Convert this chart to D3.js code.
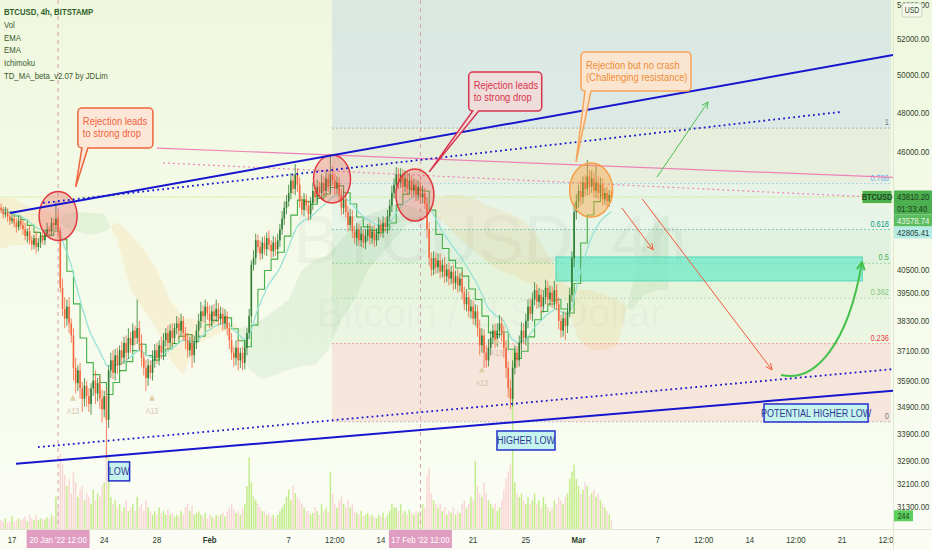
<!DOCTYPE html>
<html><head><meta charset="utf-8">
<script src="https://cdn.jsdelivr.net/npm/d3@7"></script>
<style>body{margin:0;background:#fff}svg{display:block}</style>
</head><body>
<svg id="c" width="932" height="550"></svg>
<script>
// ---------------- DATA ----------------
const candleStart = "2022-01-16T04:00";   // first 4h candle
const firstOpen = 43300;
const closes = [
43200,43000,43100,42900,42700,42800,42600,42400,42700,42500,
42300,42000,42200,41800,41600,41900,41500,41700,42000,41800,
42100,42300,42200,42600,42500,42800,42200,39700,38800,38400,
38900,38200,37700,36400,35800,36300,35600,35200,35700,35300,
35000,35600,35900,35400,35800,35200,34800,35300,34400,36300,
36700,36200,36900,36500,37100,36800,37400,37000,37600,37300,
37900,37600,38000,37400,36800,36400,36000,36500,36200,36700,
37100,36800,37300,37000,37500,37800,37400,37900,37600,38000,
38200,37900,38300,37800,37500,37100,37400,36900,37400,37900,
38300,38700,38500,38900,38600,38300,38700,38500,38800,38400,
38600,38200,38500,38000,37500,37000,36800,37200,36700,37000,
36600,37200,37800,38500,40700,41000,41800,41500,41200,41700,
41400,41900,41600,41300,41700,41400,41800,42300,42800,43300,
43600,44000,44600,44200,44900,44400,43600,43200,43700,43400,
43000,43500,44100,43800,44300,44000,44500,44100,44700,44300,
44900,44600,44200,44500,43900,43300,43700,43100,42500,42900,
42200,41900,42300,41800,42100,41700,42000,42300,41900,42200,
41800,42100,42500,42200,42600,42400,42900,43400,44000,44400,
44900,44500,44900,44300,44700,44200,44600,44100,44400,43900,
44300,43800,44000,43500,42300,41000,40500,41000,40600,40900,
40400,40700,40200,40500,40100,40400,39900,40200,39800,40100,
39500,39000,39300,38700,38900,38400,38700,38000,37300,37700,
37000,36700,37200,37600,37900,37500,37900,38200,37800,37200,
36400,35600,35200,36400,37000,36700,37400,37900,37600,38300,
38900,38600,39200,39600,39100,39400,38900,39300,39700,39200,
39500,39100,39600,39000,38300,37900,38400,38100,38700,39400,
41000,43100,43600,44100,43800,44500,44200,44800,44300,44700,
44100,44500,44000,44400,43700,44000,43600,43900,43810];
const wickUp = [
200,150,250,180,120,300,150,200,250,150,
200,300,150,250,200,150,300,200,150,250,
200,300,150,250,200,800,300,200,400,500,
300,400,200,300,400,200,300,250,300,200,
300,200,250,400,200,300,350,200,300,200,
300,400,250,300,200,350,250,300,400,250,
300,200,1200,300,350,200,300,250,200,400,
250,300,200,350,300,200,300,250,300,200,
300,250,300,200,250,300,250,350,300,250,
300,400,250,300,200,350,250,300,400,250,
300,250,300,200,250,300,250,300,350,200,
250,300,200,300,200,350,300,250,300,250,
300,250,350,200,300,250,300,250,350,300,
300,400,350,300,500,300,350,250,300,250,
250,300,400,300,350,250,400,300,350,300,
900,400,350,300,250,300,400,250,300,350,
300,250,300,250,350,200,300,250,300,250,
300,250,350,250,300,250,300,300,350,300,
350,300,300,250,400,300,350,250,300,250,
300,250,350,250,300,350,250,300,250,300,
300,250,350,250,300,250,300,250,300,250,
300,250,350,250,300,250,300,250,350,300,
250,300,350,300,250,300,300,350,250,300,
300,250,350,300,300,250,300,350,300,300,
300,350,300,350,250,300,250,300,350,300,
300,250,400,250,300,250,300,250,350,300,
300,400,350,300,500,300,350,800,300,400,
300,800,300,350,300,250,300,250,200];
const wickDn = [
150,200,150,250,200,150,200,250,150,200,
250,200,300,200,250,200,300,200,250,200,
200,150,250,200,250,200,300,200,300,400,
300,400,300,500,400,300,400,500,300,400,
300,400,300,400,300,400,500,300,1400,300,
300,250,300,350,250,300,250,300,250,300,
250,300,250,300,350,300,500,300,250,300,
300,250,300,250,300,250,300,250,300,250,
250,300,250,300,350,300,250,500,300,250,
250,300,250,300,250,300,250,300,250,300,
250,300,250,300,350,300,350,300,400,300,
300,250,300,250,300,250,300,250,300,250,
250,300,250,300,250,300,250,300,250,300,
300,250,300,250,300,350,300,250,300,250,
300,250,300,250,300,250,300,250,300,250,
300,250,300,250,300,350,300,250,300,250,
300,250,350,250,300,250,300,250,300,250,
300,250,300,250,300,250,300,250,300,250,
250,300,250,300,250,300,250,300,250,300,
250,300,300,250,400,350,300,250,300,250,
300,250,300,250,300,250,300,250,300,250,
300,250,300,250,300,250,300,350,400,300,
600,300,250,300,250,300,250,300,350,400,
400,350,400,300,250,300,250,300,250,300,
300,250,300,250,300,250,300,250,300,250,
300,250,300,250,350,300,250,600,300,250,
300,400,350,300,400,300,350,300,400,300,
300,350,300,250,300,250,300,250,200];
const volumes = [
250,200,300,180,220,350,200,260,300,240,
280,350,220,400,300,260,380,250,300,280,
260,320,280,400,350,900,600,2100,1800,1500,
1200,1400,1000,1600,1300,900,1100,1200,800,1000,
900,700,1100,800,1000,900,1200,1300,2300,2000,
900,700,800,600,700,500,600,800,500,600,
700,500,900,600,700,500,800,600,500,400,
500,400,600,450,500,400,550,400,450,350,
400,350,500,400,600,700,500,650,400,450,
500,400,350,450,300,400,350,300,400,350,
400,450,350,500,600,700,550,450,500,400,
600,700,1200,2000,1300,900,800,700,600,500,
500,400,450,350,400,300,400,500,600,700,
900,1100,800,1200,1000,900,800,700,600,500,
500,400,450,600,500,400,700,500,600,450,
1600,1000,700,600,800,900,700,600,800,600,
700,500,450,400,500,350,400,450,350,400,
350,300,400,350,450,300,400,500,700,600,
600,500,700,450,500,400,550,450,400,500,
450,500,700,600,1500,1700,1000,800,700,600,
700,500,600,400,500,450,600,400,500,450,
700,800,600,700,900,800,1900,1200,1000,900,
1300,1000,800,700,600,700,500,600,800,1100,
1400,1600,1800,5000,1300,1000,900,1000,800,700,
900,700,800,1000,700,800,600,900,700,600,
500,600,800,700,900,800,700,900,1000,1400,
1600,1800,1400,1200,1000,1100,1300,1200,900,1000,
1100,900,1000,800,700,600,500,400,244];

// Ichimoku cloud
const cloudDates = ["2022-01-16","2022-01-17","2022-01-18","2022-01-19","2022-01-20","2022-01-21","2022-01-22","2022-01-23","2022-01-24","2022-01-25","2022-01-26","2022-01-27","2022-01-28","2022-01-29","2022-01-30","2022-01-31",
"2022-02-01","2022-02-02","2022-02-03","2022-02-04","2022-02-05","2022-02-06","2022-02-07","2022-02-08","2022-02-09","2022-02-10","2022-02-11","2022-02-12","2022-02-13","2022-02-14","2022-02-15","2022-02-16","2022-02-17","2022-02-18","2022-02-19","2022-02-20","2022-02-21","2022-02-22","2022-02-23","2022-02-24","2022-02-25","2022-02-26","2022-02-27","2022-02-28",
"2022-03-01","2022-03-02","2022-03-03","2022-03-04","2022-03-05","2022-03-06","2022-03-07","2022-03-07T20:00"];
const spanA = [41370,41590,41590,41820,42180,43060,43100,43060,43010,41820,39610,38770,37930,36720,36130,37330,
37610,37860,37930,38140,38350,38770,39190,40480,40920,41140,41820,42500,42960,43200,43430,43430,43200,42960,42500,41820,41370,40830,40480,40260,39960,39610,39530,39190,
37530,37120,37120,37330,39610,41820,42730,42960];
const spanB = [43760,43760,43430,43200,43100,42370,42180,42050,42180,42640,42050,41370,40480,39190,38430,38350,
38270,38230,38140,36330,35940,36130,36330,36450,36530,37120,38350,39190,40480,41140,41820,42500,42730,43670,43900,43900,43760,43430,43200,42960,42640,41820,40830,39830,
39610,39610,39400,39190,38770,39400,39610,39610];

// Fibonacci retracement
const fibLevels = [0, 0.236, 0.382, 0.5, 0.618, 0.786, 1, 1.618];
const fibColors = ["#787b86","#f23645","#81c784","#4caf50","#089981","#64b5f6","#787b86","#2962ff"];
const fibLow = 34330, fibHigh = 47210;
const fibStart = "2022-02-10T07:00", fibEnd = "2022-03-24T17:00";

// axes
const priceTicks = [54000,52000,50000,48000,46000,40500,39500,38300,37100,35900,34900,33900,32900,32100,31300];
const timeTicks = ["2022-01-17","2022-01-24","2022-01-28","2022-02-01","2022-02-07","2022-02-10T12:00","2022-02-14","2022-02-21","2022-02-25","2022-03-01","2022-03-07","2022-03-10T12:00","2022-03-14","2022-03-17T12:00","2022-03-21","2022-03-24T12:00"];
const timeLabels = ["17","24","28","Feb","7","12:00","14","21","25","Mar","7","12:00","14","12:00","21","12:00"];
const crossDates = ["2022-01-20T12:00","2022-02-17T00:00"];
const crossLabels = ["20 Jan '22  12:00","17 Feb '22  12:00"];
const legendLines = ["BTCUSD, 4h, BITSTAMP","Vol","EMA","EMA","Ichimoku","TD_MA_beta_v2.07 by JDLim"];
const lastPrice = 43810.20, countdown = "01:33:40";
const emaFastLast = 43578.74, emaSlowLast = 42805.41;
const symbol = "BTCUSD";
const watermark = ["BTCUSD, 4h", "Bitcoin / U.S. Dollar"];

// drawings
const trendLines = [
  {a:["2022-01-16T20:00",43060], b:["2022-03-24T21:00",51100], kind:"solid"},
  {a:["2022-01-19T08:30",43530], b:["2022-03-20T20:00",48040], kind:"dot"},
  {a:["2022-01-17T07:18",32800], b:["2022-03-24T21:00",35510], kind:"solid"},
  {a:["2022-01-18T23:20",33400], b:["2022-03-24T21:00",36350], kind:"dot"}
];
const pinkLines = [
  {a:["2022-01-28T00:00",46200], b:["2022-03-24T21:00",44750], kind:"solid"},
  {a:["2022-01-28T11:00",45460], b:["2022-03-24T21:00",43760], kind:"dot"}
];
const circles = [
  {t:"2022-01-20T12:00", p:42920, rx:19, ry:24.5, c:"red"},
  {t:"2022-02-10T07:00", p:44670, rx:18.5, ry:24, c:"red"},
  {t:"2022-02-16T14:00", p:43900, rx:19, ry:26, c:"red"},
  {t:"2022-03-01T23:00", p:44140, rx:21.5, ry:27, c:"orange"}
];
const targetZone = {t1:"2022-02-27T07:00", t2:"2022-03-22T13:00", p1:40000, p2:41050};
const arrows = [
  {a:["2022-03-06T23:00",44770], b:["2022-03-10T20:00",48570], c:"#49c24f"},
  {a:["2022-03-04T07:00",43290], b:["2022-03-06T16:00",41370], c:"#f15b3c"},
  {a:["2022-03-05T20:00",43720], b:["2022-03-15T16:30",36320], c:"#f15b3c"}
];
const curveArrow = [["2022-03-16T09:00",36120],["2022-03-19T00:00",35800],["2022-03-21T12:00",37400],["2022-03-22T12:30",40840]];
const callouts = [
  {t:"2022-01-22T00:00", p:48250, w:75, h:40, tip:["2022-01-21T20:00",44290], lines:["Rejection leads","to strong drop"], stroke:"#f0633c", fill:"#fde3d6", text:"#f0633c"},
  {t:"2022-02-20T16:00", p:50170, w:73, h:39, tip:["2022-02-17T16:00",45020], lines:["Rejection leads","to strong drop"], stroke:"#d9344f", fill:"#f0dcd8", text:"#d9344f"},
  {t:"2022-03-01T04:30", p:51270, w:110, h:39, tip:["2022-02-28T19:30",45500], lines:["Rejection but no crash","(Challenging resistance)"], stroke:"#f7a458", fill:"#fde6cd", text:"#f08b36"}
];
const boxLabels = [
  {t:"2022-01-24T08:00", p:32870, w:21, h:19, text:"LOW"},
  {t:"2022-02-22T19:30", p:33990, w:58, h:19, text:"HIGHER LOW"},
  {t:"2022-03-15T02:00", p:35000, w:104, h:18, text:"POTENTIAL HIGHER LOW"}
];
const tdMarks = [
  {t:"2022-01-21T15:00", p:35240, text:"A13"},
  {t:"2022-01-27T15:00", p:35240, text:"A13"},
  {t:"2022-02-22T19:00", p:37500, text:"A13"},
  {t:"2022-02-21T16:00", p:36330, text:"A13"}
];

// ---------------- SETUP ----------------
const FONT = "'Liberation Sans',Arial,sans-serif";
const SX = 0.82;                // narrow look of the original UI font
const PR = 893, PB = 529;
const D = s => new Date((s.length===10 ? s+"T00:00" : s) + "Z");
const svg = d3.select("#c");
const x = d3.scaleUtc().domain([D("2022-01-17"), D("2022-03-21")]).range([12, 842]);
const y = d3.scaleLog().domain([52000, 31300]).range([39, 507]);
const vy = d3.scaleLinear().domain([0, 5000]).range([PB, 350]);
const P = (t,p) => [x(D(t)), y(p)];

function T(parent, tx, ty, s, o={}){
  return parent.append("text").attr("transform",`translate(${tx},${ty}) scale(${o.sx??SX},1)`)
    .attr("text-anchor",o.anchor||"start").attr("font-family",FONT)
    .attr("font-size",o.size||9).attr("font-weight",o.weight||"normal")
    .attr("fill",o.fill||"#333").text(s);
}

const defs = svg.append("defs");
const grad = defs.append("linearGradient").attr("id","bg").attr("x1",0).attr("y1",0).attr("x2",0).attr("y2",1);
grad.append("stop").attr("offset","0%").attr("stop-color","#eff8de");
grad.append("stop").attr("offset","100%").attr("stop-color","#fbfdf5");
defs.append("clipPath").attr("id","plot").append("rect").attr("x",0).attr("y",0).attr("width",PR).attr("height",PB);
defs.append("clipPath").attr("id","taxis").append("rect").attr("x",0).attr("y",PB).attr("width",PR).attr("height",550-PB);

svg.append("rect").attr("width",932).attr("height",550).attr("fill","url(#bg)");
const g = svg.append("g").attr("clip-path","url(#plot)");

// Fib zones
const fibPrice = l => fibLow + l*(fibHigh-fibLow);
const fx1 = x(D(fibStart)), fx2 = x(D(fibEnd));
for (let i=0;i<fibLevels.length-1;i++){
  const ya = y(fibPrice(fibLevels[i+1])), yb = y(fibPrice(fibLevels[i]));
  g.append("rect").attr("x",fx1).attr("width",fx2-fx1).attr("y",ya).attr("height",yb-ya)
    .attr("fill",fibColors[i+1]).attr("fill-opacity", i===0?0.11:(i===6?0.1:0.085));
}

// watermark
T(g, 490, 263, watermark[0], {sx:1, anchor:"middle", size:68, fill:"rgba(70,100,70,0.05)"});
T(g, 490, 327, watermark[1], {sx:1, anchor:"middle", size:40, fill:"rgba(70,100,70,0.05)"});

// Ichimoku cloud
const cg = g.append("g").attr("opacity",0.09);
function poly(pts, up){ cg.append("path").attr("d","M"+pts.map(p=>p.join(",")).join("L")+"Z").attr("fill", up?"#3fa044":"#ff9800"); }
for (let k=0;k<cloudDates.length-1;k++){
  const x0=x(D(cloudDates[k])), x1=x(D(cloudDates[k+1]));
  const a0=y(spanA[k]), b0=y(spanB[k]), a1=y(spanA[k+1]), b1=y(spanB[k+1]);
  const s0 = spanA[k]>=spanB[k], s1 = spanA[k+1]>=spanB[k+1];
  if (s0===s1) poly([[x0,a0],[x1,a1],[x1,b1],[x0,b0]], s0);
  else {
    const d0=a0-b0, d1=a1-b1, t=d0/(d0-d1);
    const xc=x0+t*(x1-x0), yc=a0+t*(a1-a0);
    poly([[x0,a0],[xc,yc],[x0,b0]], s0);
    poly([[xc,yc],[x1,a1],[x1,b1]], s1);
  }
}

// candles
const t0 = D(candleStart).getTime(), H4 = 4*3600e3;
const candles = closes.map((c,i)=>{const o=i?closes[i-1]:firstOpen;
  return {t:new Date(t0+i*H4), o, c, h:Math.max(o,c)+wickUp[i], l:Math.min(o,c)-wickDn[i], v:volumes[i]};});

// volume
g.append("g").selectAll("rect").data(candles).join("rect")
  .attr("x",d=>x(d.t)-0.75).attr("width",1.5)
  .attr("y",d=>vy(d.v)).attr("height",d=>PB-vy(d.v))
  .attr("fill",d=>d.c>=d.o?"#c3ec8a":"#fbd6d6");

// fib lines + labels
fibLevels.forEach((l,i)=>{
  if (l>1) return;
  const yy = y(fibPrice(l));
  g.append("line").attr("x1",fx1).attr("x2",fx2).attr("y1",yy).attr("y2",yy)
    .attr("stroke",fibColors[i]).attr("stroke-opacity",0.45).attr("stroke-dasharray","2,2");
  T(g, fx2-2, yy-3, String(l), {anchor:"end", size:9, fill:fibColors[i]});
});

// target zone
g.append("rect").attr("x",x(D(targetZone.t1))).attr("width",x(D(targetZone.t2))-x(D(targetZone.t1)))
  .attr("y",y(targetZone.p2)).attr("height",y(targetZone.p1)-y(targetZone.p2))
  .attr("fill","#5fe8c6").attr("fill-opacity",0.65).attr("stroke","#4fd8b8").attr("stroke-width",1);

// crosshair verticals
crossDates.forEach(t=>{
  g.append("line").attr("x1",x(D(t))).attr("x2",x(D(t))).attr("y1",0).attr("y2",PB)
   .attr("stroke","#d6a2aa").attr("stroke-dasharray","4,4");
});

// last price line
g.append("line").attr("x1",0).attr("x2",PR).attr("y1",y(lastPrice)).attr("y2",y(lastPrice))
  .attr("stroke","#cdeb95").attr("stroke-dasharray","2,1");

// pink lines
pinkLines.forEach(L=>{
  const a=P(...L.a), b=P(...L.b);
  g.append("line").attr("x1",a[0]).attr("y1",a[1]).attr("x2",b[0]).attr("y2",b[1])
   .attr("stroke","#ee82b6").attr("stroke-width",1.2)
   .attr("stroke-dasharray",L.kind==="solid"?null:"2,3");
});

// EMAs
function ema(arr,n){const k=2/(n+1);let e=arr[0];return arr.map(v=>e=v*k+e*(1-k));}
const emaF = ema(closes,10), emaS = ema(closes,21);
const stepPts = candles.map((d,i)=>[x(d.t), y(emaF[i])]).filter((d,i)=>i%3===0 || i===closes.length-1);
g.append("path").attr("d",d3.line().curve(d3.curveStepAfter)(stepPts)).attr("fill","none").attr("stroke","#43b047").attr("stroke-width",1.1);
g.append("path").attr("d",d3.line()(candles.map((d,i)=>[x(d.t), y(emaS[i])]))).attr("fill","none").attr("stroke","#96e3d6").attr("stroke-width",1.3);

// candles
const cgp = g.append("g");
candles.forEach(d=>{
  const col = d.c>=d.o ? "#2f7d32" : "#f4673c";
  const cx = x(d.t);
  cgp.append("line").attr("x1",cx).attr("x2",cx).attr("y1",y(d.h)).attr("y2",y(d.l)).attr("stroke",col).attr("stroke-width",0.8);
  const top=y(Math.max(d.o,d.c)), bot=y(Math.min(d.o,d.c));
  cgp.append("rect").attr("x",cx-0.8).attr("width",1.6).attr("y",top).attr("height",Math.max(1,bot-top)).attr("fill",col);
});

// TD marks
tdMarks.forEach(m=>{
  const [mx,my]=P(m.t,m.p);
  g.append("path").attr("d",`M${mx-3},${my+3}L${mx+3},${my+3}L${mx},${my-3}Z`).attr("fill","#e0cfa6");
  T(g, mx, my+16, m.text, {anchor:"middle", size:8.5, fill:"#d9c2ad"});
});

// circles
circles.forEach(c=>{
  const [cx,cy]=P(c.t,c.p);
  g.append("ellipse").attr("cx",cx).attr("cy",cy).attr("rx",c.rx).attr("ry",c.ry)
   .attr("fill",c.c==="red"?"rgba(236,80,80,0.3)":"rgba(250,160,60,0.42)")
   .attr("stroke",c.c==="red"?"#e0393e":"#f6a04a").attr("stroke-width",1.5);
});

// trend lines
trendLines.forEach(L=>{
  const a=P(...L.a), b=P(...L.b);
  g.append("line").attr("x1",a[0]).attr("y1",a[1]).attr("x2",b[0]).attr("y2",b[1])
   .attr("stroke","#1616cf").attr("stroke-width",L.kind==="solid"?2:1.8)
   .attr("stroke-dasharray",L.kind==="solid"?null:"1.8,3.2");
});

// arrows
function head(px,py,ang,col,len,w){
  [0.45,-0.45].forEach(s=>{
    g.append("line").attr("x1",px).attr("y1",py).attr("x2",px-len*Math.cos(ang+s)).attr("y2",py-len*Math.sin(ang+s))
     .attr("stroke",col).attr("stroke-width",w);
  });
}
arrows.forEach(A=>{
  const a=P(...A.a), b=P(...A.b);
  g.append("line").attr("x1",a[0]).attr("y1",a[1]).attr("x2",b[0]).attr("y2",b[1]).attr("stroke",A.c).attr("stroke-width",1);
  head(b[0],b[1],Math.atan2(b[1]-a[1],b[0]-a[0]),A.c,7,1);
});
{
  const pts = curveArrow.map(p=>P(...p));
  g.append("path").attr("d",`M${pts[0]}C${pts[1]} ${pts[2]} ${pts[3]}`).attr("fill","none").attr("stroke","#45c24d").attr("stroke-width",2);
  head(pts[3][0],pts[3][1],Math.atan2(pts[3][1]-pts[2][1],pts[3][0]-pts[2][0]),"#45c24d",9,2);
}

// callouts
callouts.forEach(c=>{
  const [bx,by]=P(c.t,c.p), [tx,ty]=P(...c.tip), w=c.w, h=c.h, r=4;
  const b1=bx+4, b2=bx+10;
  const d=`M${bx+r},${by}H${bx+w-r}A${r},${r} 0 0 1 ${bx+w},${by+r}V${by+h-r}A${r},${r} 0 0 1 ${bx+w-r},${by+h}H${b2}L${tx},${ty}L${b1},${by+h}H${bx+r}A${r},${r} 0 0 1 ${bx},${by+h-r}V${by+r}A${r},${r} 0 0 1 ${bx+r},${by}Z`;
  g.append("path").attr("d",d).attr("fill",c.fill).attr("fill-opacity",0.9).attr("stroke",c.stroke).attr("stroke-width",1.5);
  c.lines.forEach((s,i)=>T(g, bx+5, by+17+i*12, s, {size:11.5, fill:c.text}));
});

// box labels
boxLabels.forEach(b=>{
  const [bx,by]=P(b.t,b.p);
  g.append("rect").attr("x",bx).attr("y",by).attr("width",b.w).attr("height",b.h)
   .attr("fill","#c6f3ee").attr("stroke","#2430c8").attr("stroke-width",1.5);
  T(g, bx+b.w/2, by+b.h/2+4, b.text, {anchor:"middle", size:11, fill:"#2d3a94"});
});

// BTCUSD in-plot label
{
  const yy=y(lastPrice);
  g.append("rect").attr("x",862).attr("y",yy-6.5).attr("width",30).attr("height",13).attr("fill","#4caf50").attr("stroke","#e4f3c4").attr("stroke-width",1);
  T(g, 877, yy+3.2, symbol, {anchor:"middle", size:9, weight:"bold", fill:"#1e4a1e"});
}

// legend
legendLines.forEach((s,i)=>T(svg, 4, 15+i*12.8, s, {size:9.5, weight:i===0?"bold":"normal", fill:i===0?"#2f5f2a":"#3c5a30"}));

// axes borders
svg.append("line").attr("x1",PR+0.5).attr("x2",PR+0.5).attr("y1",0).attr("y2",550).attr("stroke","#dfe7d4");
svg.append("line").attr("x1",0).attr("x2",932).attr("y1",PB+0.5).attr("y2",PB+0.5).attr("stroke","#dfe7d4");

// price axis ticks
priceTicks.forEach(v=>T(svg, 897, y(v)+3.3, v.toFixed(2), {size:9.5, fill:"#34452f"}));

// USD box
svg.append("rect").attr("x",902).attr("y",3).attr("width",20).attr("height",14).attr("rx",3)
  .attr("fill","#f4f9ec").attr("stroke","#c5cfbd");
T(svg, 912, 13, "USD", {anchor:"middle", size:8.5, fill:"#34452f"});

// price labels stacked on axis
{
  const specs=[
    {v:lastPrice, lines:[lastPrice.toFixed(2), countdown], fill:"#4caf50", col:"#1c3d1c"},
    {v:emaFastLast, lines:[emaFastLast.toFixed(2)], fill:"#5cbd60", col:"#e9f7e0"},
    {v:emaSlowLast, lines:[emaSlowLast.toFixed(2)], fill:"#b6ece4", col:"#24443c"}
  ];
  let prevBottom=-1e9;
  specs.forEach(s=>{
    const h=s.lines.length*12;
    const top=Math.max(y(s.v)-6.5, prevBottom);
    svg.append("rect").attr("x",PR+1).attr("y",top).attr("width",932-PR-1).attr("height",h).attr("fill",s.fill);
    s.lines.forEach((t,i)=>T(svg, 897, top+9.2+i*12, t, {size:9.5, fill:s.col}));
    prevBottom=top+h;
  });
}
// volume label
{
  const vv=volumes[volumes.length-1], yy=vy(vv)-5;
  svg.append("rect").attr("x",PR+1).attr("y",yy-5).attr("width",19).attr("height",11).attr("fill","#5bcf5b");
  T(svg, PR+10.5, yy+3.5, String(vv), {anchor:"middle", size:8.5, fill:"#1d3d1d"});
}

// time axis
const ta = svg.append("g").attr("clip-path","url(#taxis)");
timeTicks.forEach((t,i)=>{
  const lab=timeLabels[i], isMonth=/^[A-Z]/.test(lab);
  T(ta, x(D(t)), 543, lab, {anchor:"middle", size:9.5, weight:isMonth?"bold":"normal", fill:"#2c3d2a"});
});
crossDates.forEach((t,i)=>{
  const cx=x(D(t));
  ta.append("rect").attr("x",cx-31.5).attr("y",PB+1).attr("width",63).attr("height",18).attr("fill","#e09dc1");
  T(ta, cx, 543, crossLabels[i], {anchor:"middle", size:9.5, fill:"#ffffff"});
});
</script>
</body></html>
